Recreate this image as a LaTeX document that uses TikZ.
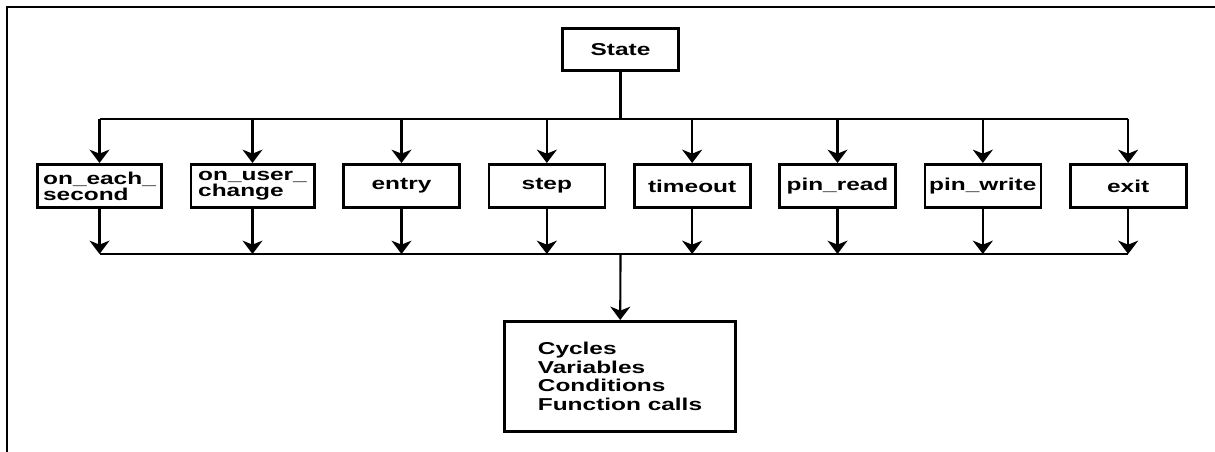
\documentclass[tikz,border=0pt]{standalone}
\usepackage{fontspec}
\usepackage{tikz}
\usetikzlibrary{arrows.meta,positioning}
\newfontfamily\boxfont[FakeStretch=1.42]{Liberation Sans Bold}
\tikzset{
  fnbox/.style={draw,line width=2pt,minimum width=87pt,minimum height=32.5pt,inner sep=2pt,align=center,
    font={\boxfont\fontsize{12.9pt}{10.9pt}\selectfont}},
  flow/.style={line width=1.6pt,-{Stealth[length=10pt,width=15pt,inset=3pt]}},
  link/.style={line width=1.6pt}
}

\begin{document}
\begin{tikzpicture}[x=0.75pt,y=-0.75pt,node distance=20pt]
\useasboundingbox (0,0) rectangle (1215,452);
\draw[line width=1.5pt] (7,452) -- (7,7) -- (1215,7);
\node[fnbox,minimum height=31.5pt] (state) at (620.5,49.5) {State};
\node[fnbox,align=left,minimum width=93pt] (onsec) at (99.5,186) {on\_each\_\\second};
\node[fnbox,align=left,minimum width=92.5pt,right=of onsec] (onuser) {on\_user\_\\change};
\node[fnbox,right=of onuser] (entry) {entry};
\node[fnbox,right=of entry] (stepfn) {step};
\node[fnbox,right=of stepfn] (timeout) {timeout};
\node[fnbox,right=of timeout] (pinread) {pin\_read};
\node[fnbox,right=of pinread] (pinwrite) {pin\_write};
\node[fnbox,right=of pinwrite] (quit) {exit};
\node[fnbox,align=left,minimum width=173.5pt,minimum height=82.75pt,
  font={\boxfont\fontsize{12.9pt}{13.9pt}\selectfont}] (body) at (620,376.5)
  {Cycles\\Variables\\Conditions\\Function calls};
\coordinate (split) at (620.5,119);
\coordinate (join) at (620.5,254);
\draw[link] (state) -- (split);
\draw[link] (split -| onsec) -- (split -| quit);
\draw[flow] (split -| onsec) -- (onsec);
\draw[flow] (split -| onuser) -- (onuser);
\draw[flow] (split -| entry) -- (entry);
\draw[flow] (split -| stepfn) -- (stepfn);
\draw[flow] (split -| timeout) -- (timeout);
\draw[flow] (split -| pinread) -- (pinread);
\draw[flow] (split -| pinwrite) -- (pinwrite);
\draw[flow] (split -| quit) -- (quit);
\draw[flow] (onsec) -- (join -| onsec);
\draw[flow] (onuser) -- (join -| onuser);
\draw[flow] (entry) -- (join -| entry);
\draw[flow] (stepfn) -- (join -| stepfn);
\draw[flow] (timeout) -- (join -| timeout);
\draw[flow] (pinread) -- (join -| pinread);
\draw[flow] (pinwrite) -- (join -| pinwrite);
\draw[flow] (quit) -- (join -| quit);
\draw[link] (join -| onsec) -- (join -| quit);
\draw[flow] (join) -- (body);
\end{tikzpicture}
\end{document}
